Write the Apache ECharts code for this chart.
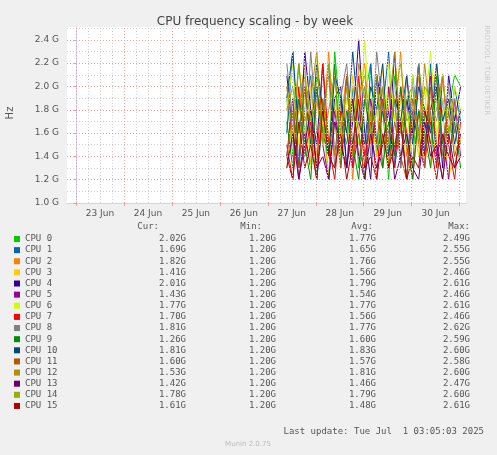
<!DOCTYPE html>
<html><head><meta charset="utf-8">
<script src="https://cdn.jsdelivr.net/npm/echarts@6/dist/echarts.min.js"></script>
<style>html,body{margin:0;padding:0;background:#f0f0f0}#c{width:497px;height:455px}</style>
</head><body><div id="c"></div>
<script>
// x in hours since 23 Jun 00:00
const dayLabels = ['23 Jun','24 Jun','25 Jun','26 Jun','27 Jun','28 Jun','29 Jun','30 Jun'];
const names = ['CPU 0','CPU 1','CPU 2','CPU 3','CPU 4','CPU 5','CPU 6','CPU 7','CPU 8','CPU 9','CPU 10','CPU 11','CPU 12','CPU 13','CPU 14','CPU 15'];
const colors = ['#00CC00','#0066B3','#FF8000','#FFCC00','#330099','#990099','#CCFF00','#FF0000','#808080','#008F00','#00487D','#B35A00','#B38F00','#6B006B','#8FB300','#B30000'];
const curV = ['2.02G','1.69G','1.82G','1.41G','2.01G','1.43G','1.77G','1.70G','1.81G','1.26G','1.81G','1.60G','1.53G','1.42G','1.78G','1.61G'];
const minV = ['1.20G','1.20G','1.20G','1.20G','1.20G','1.20G','1.20G','1.20G','1.20G','1.20G','1.20G','1.20G','1.20G','1.20G','1.20G','1.20G'];
const avgV = ['1.77G','1.65G','1.76G','1.56G','1.79G','1.54G','1.77G','1.56G','1.77G','1.60G','1.83G','1.57G','1.81G','1.46G','1.79G','1.48G'];
const maxV = ['2.49G','2.55G','2.55G','2.46G','2.61G','2.46G','2.61G','2.46G','2.62G','2.59G','2.60G','2.58G','2.60G','2.47G','2.60G','2.61G'];
const startHour = 105.5, stepHours = 3;
const values = [
 [1.9,1.4,2.2,1.6,1.3,2.1,1.8,1.2,2.3,1.7,1.5,2.0,1.3,1.9,2.2,1.4,1.8,1.2,2.1,1.6,1.9,1.3,2.2,1.7,1.5,2.0,1.4,1.8,2.1,2.0],
 [1.6,2.3,1.3,1.8,2.1,1.2,1.7,2.2,1.4,1.9,1.3,2.0,1.6,1.2,2.2,1.5,1.8,2.3,1.3,1.7,1.2,2.1,1.6,1.4,2.2,1.3,1.9,1.5,2.0,1.7],
 [2.0,1.5,1.8,2.2,1.3,1.9,1.6,2.3,1.4,1.7,2.1,1.2,1.9,2.2,1.5,1.8,1.3,2.0,1.7,2.3,1.4,1.6,2.1,1.3,1.8,2.2,1.5,1.9,1.6,1.8],
 [1.3,1.8,1.2,1.6,2.0,1.4,1.7,1.2,1.9,1.5,1.3,2.1,1.6,1.2,1.8,1.4,2.2,1.3,1.5,1.9,1.2,1.7,1.4,2.0,1.3,1.6,1.8,1.2,1.5,1.4],
 [2.1,1.6,1.3,2.3,1.8,1.5,2.2,1.4,1.9,2.0,1.3,1.7,2.4,1.6,1.2,2.1,1.8,1.5,2.3,1.3,1.9,1.6,2.2,1.4,1.8,2.0,1.3,2.1,1.7,2.0],
 [1.4,1.9,1.2,1.6,1.3,2.0,1.5,1.2,1.8,1.4,2.1,1.3,1.6,1.2,1.9,1.5,1.3,2.0,1.4,1.7,1.2,1.8,1.5,1.3,2.1,1.4,1.6,1.2,1.9,1.4],
 [1.8,2.2,1.5,1.9,1.3,2.3,1.7,1.6,2.1,1.4,1.9,2.0,1.5,2.4,1.6,1.8,1.3,2.2,1.7,1.9,1.5,2.1,1.4,1.8,2.3,1.6,1.9,1.5,2.0,1.8],
 [1.5,1.2,2.0,1.4,1.7,1.3,2.2,1.5,1.2,1.8,1.6,1.3,2.1,1.4,1.7,1.2,1.9,1.5,1.3,2.0,1.6,1.2,1.8,1.4,1.7,1.3,2.1,1.5,1.2,1.7],
 [2.2,1.7,1.9,1.4,2.3,1.6,1.8,2.1,1.3,1.9,2.2,1.5,1.7,2.0,1.4,2.3,1.8,1.6,1.9,1.3,2.1,1.7,2.2,1.5,1.8,1.9,1.4,2.0,1.6,1.8],
 [1.7,1.3,1.9,1.5,1.2,2.0,1.6,1.4,2.2,1.3,1.8,1.5,1.2,1.9,1.6,2.1,1.3,1.7,1.4,2.0,1.5,1.2,1.8,1.6,1.3,2.1,1.5,1.4,1.7,1.3],
 [1.9,2.3,1.6,2.0,1.5,2.2,1.8,1.4,2.1,1.9,1.6,2.3,1.7,1.5,2.0,1.8,2.2,1.4,1.9,1.7,2.1,1.5,2.0,1.8,1.6,2.2,1.7,1.9,1.5,1.8],
 [1.4,1.8,1.3,2.0,1.6,1.2,1.9,1.5,1.7,1.3,2.1,1.4,1.6,1.2,1.8,1.5,2.0,1.3,1.7,1.4,1.2,1.9,1.6,1.3,2.0,1.5,1.2,1.8,1.4,1.6],
 [2.0,1.6,2.2,1.7,1.9,2.3,1.5,1.8,2.1,1.6,2.0,1.4,2.2,1.9,1.7,2.1,1.5,1.8,2.3,1.6,1.9,2.0,1.5,2.2,1.7,1.8,2.1,1.6,1.9,1.5],
 [1.3,1.6,1.2,1.5,1.8,1.3,1.4,1.2,1.7,1.5,1.3,1.9,1.4,1.2,1.6,1.3,1.5,1.8,1.2,1.4,1.6,1.3,1.2,1.7,1.4,1.5,1.2,1.6,1.3,1.4],
 [1.8,2.0,1.6,2.1,1.7,1.9,1.5,2.2,1.8,1.6,2.0,1.7,1.9,2.1,1.6,1.8,2.0,1.5,1.9,2.2,1.7,1.8,1.6,2.0,1.9,1.7,2.1,1.6,1.8,1.8],
 [1.4,1.2,1.7,1.3,1.5,1.2,1.8,1.4,1.3,1.6,1.2,1.5,1.9,1.3,1.4,1.2,1.6,1.3,1.5,1.7,1.2,1.4,1.3,1.8,1.5,1.2,1.6,1.4,1.3,1.6]
];
const majorX = [0,24,48,72,96,120,144,168,192];
const minorX = []; for(let h=-0; h<=195; h+=6) if(h%24) minorX.push(h);
const majorY = [1.2,1.4,1.6,1.8,2.0,2.2,2.4];
const minorY = [1.1,1.3,1.5,1.7,1.9,2.1,2.3,2.5];
const noonX = dayLabels.map((_,i)=>i*24+12);

const chart = echarts.init(document.getElementById('c'));
const series = values.map((v,i)=>({
  type:'line', name:names[i], showSymbol:false, symbol:'none', animation:false, z:3,
  lineStyle:{width:1,color:colors[i]}, color:colors[i],
  data:v.map((y,j)=>[startHour+j*stepHours,y])
}));
const gridSeries = {
  type:'line', data:[], silent:true, z:1,
  markLine:{silent:true,symbol:'none',label:{show:false},animation:false,
    data:[].concat(
      minorX.map(x=>({xAxis:x,lineStyle:{color:'#d0d0d0',type:[1,2],width:1}})),
      minorY.map(y=>({yAxis:y,lineStyle:{color:'#d0d0d0',type:[1,2],width:1}})),
      majorX.map(x=>({xAxis:x,lineStyle:{color:'#e8a0a0',type:[1,2],width:1}})),
      majorY.map(y=>({yAxis:y,lineStyle:{color:'#e8a0a0',type:[1,2],width:1}}))
    )}
};
const mono = 'DejaVu Sans Mono';
const g = [{type:'rect',z:-10,shape:{x:67,y:27,width:399,height:176},style:{fill:'#fff'}}];
const rowY0 = 239, rowH = 11.13, hdrY = 227;
[['Cur:',159],['Min:',262],['Avg:',373],['Max:',470]].forEach(h=>
  g.push({type:'text',x:h[1],y:hdrY,style:{text:h[0],font:'9px '+mono,fill:'#555',textAlign:'right',textVerticalAlign:'middle'}}));
names.forEach((n,i)=>{
  const y = rowY0 + i*rowH;
  g.push({type:'rect',shape:{x:14,y:y-3,width:6,height:6},style:{fill:colors[i]}});
  g.push({type:'text',x:25,y:y,style:{text:n,font:'9px '+mono,fill:'#555',textVerticalAlign:'middle'}});
  [[curV,186],[minV,276],[avgV,376],[maxV,470]].forEach(c=>
    g.push({type:'text',x:c[1],y:y,style:{text:c[0][i],font:'9px '+mono,fill:'#555',textAlign:'right',textVerticalAlign:'middle'}}));
});
g.push({type:'text',x:484,y:432,style:{text:'Last update: Tue Jul  1 03:05:03 2025',font:'9px '+mono,fill:'#555',textAlign:'right',textVerticalAlign:'middle'}});
g.push({type:'text',x:248,y:444,style:{text:'Munin 2.0.75',font:'7px DejaVu Sans',fill:'#bbb',textAlign:'center',textVerticalAlign:'middle'}});
g.push({type:'text',x:487,y:25,rotation:-Math.PI/2,style:{text:'RRDTOOL / TOBI OETIKER',font:'7px DejaVu Sans',fill:'#ccc',textVerticalAlign:'middle'}});
g.push({type:'text',x:10,y:113,rotation:Math.PI/2,style:{text:'Hz',font:'10px DejaVu Sans',fill:'#555',textAlign:'center',textVerticalAlign:'middle'}});

const option = {
  backgroundColor:'#f0f0f0', animation:false,
  title:{text:'CPU frequency scaling - by week',left:250,top:11,textAlign:'center',textStyle:{fontFamily:'DejaVu Sans',fontSize:12,fontWeight:'normal',color:'#444'}},
  grid:{left:67,right:31,top:27,bottom:252},
  xAxis:{type:'value',min:-4.5,max:195.2,
    axisLine:{show:true,lineStyle:{color:'#ccd4f0'}},
    axisTick:{show:true,customValues:majorX,length:3,lineStyle:{color:'#ff9999'}},
    axisLabel:{customValues:noonX,formatter:v=>dayLabels[Math.round((v-12)/24)],fontFamily:'DejaVu Sans',fontSize:9,color:'#555',margin:6},
    splitLine:{show:false}},
  yAxis:{type:'value',min:1.0,max:2.51,interval:0.2,
    axisLine:{show:true,lineStyle:{color:'#ccd4f0'}},
    axisTick:{show:true,length:3,lineStyle:{color:'#ff9999'}},
    axisLabel:{formatter:v=>v.toFixed(1)+' G',fontFamily:'DejaVu Sans',fontSize:9,color:'#555',showMaxLabel:false},
    splitLine:{show:false}},
  series:[gridSeries].concat(series),
  graphic:g
};
chart.setOption(option);
</script></body></html>
